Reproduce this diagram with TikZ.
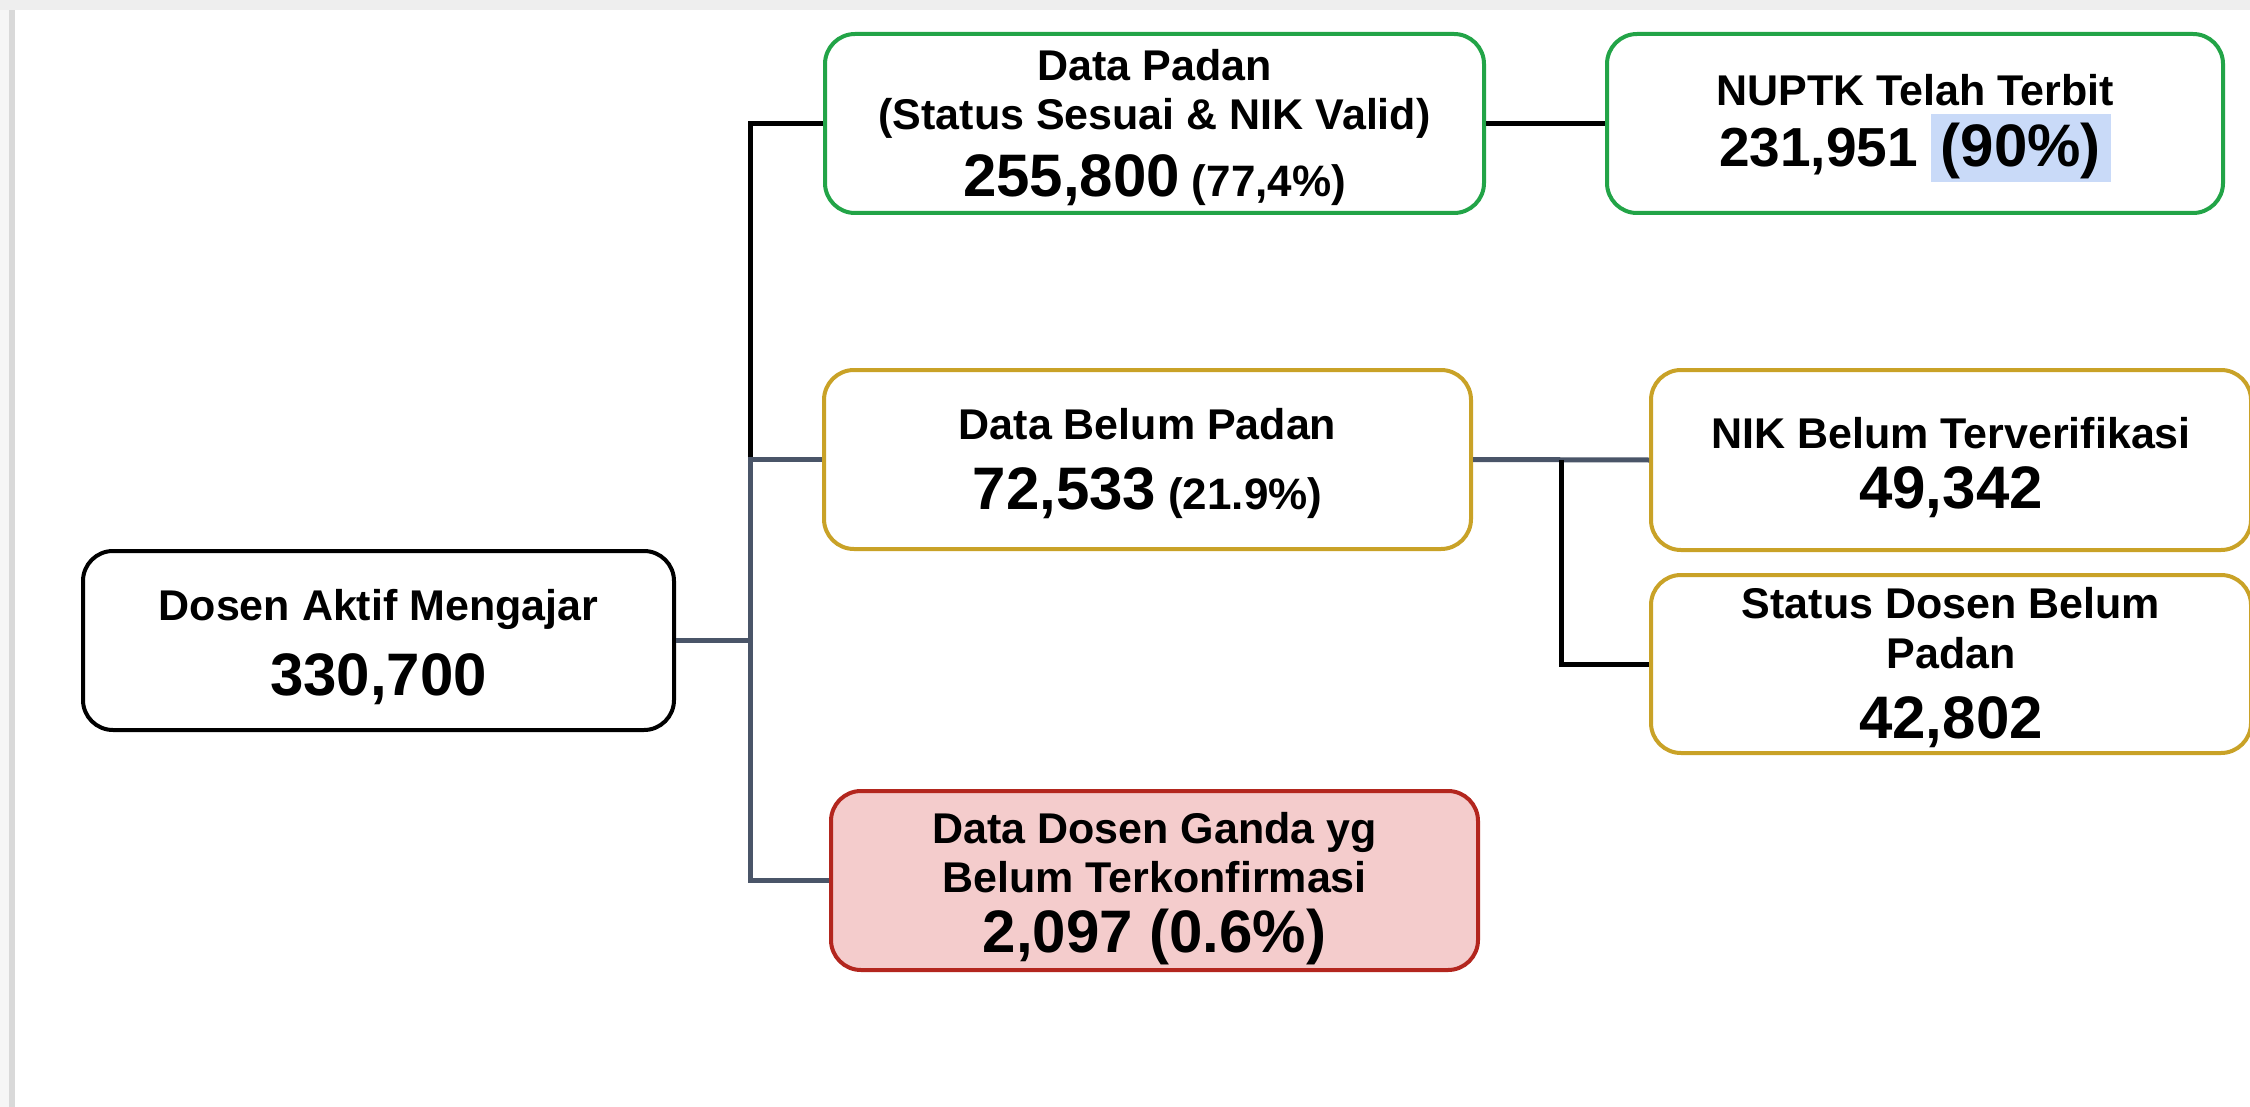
\documentclass[tikz,border=0pt]{standalone}
\usepackage{fontspec}
\setmainfont{Liberation Sans}
\usetikzlibrary{calc}
\definecolor{grn}{HTML}{22A447}
\definecolor{gld}{HTML}{C9A227}
\definecolor{redb}{HTML}{B3261E}
\definecolor{redf}{HTML}{F4CCCC}
\definecolor{slate}{HTML}{4A5568}
\definecolor{hl}{HTML}{C9DAF8}
\definecolor{topband}{HTML}{EEEEEE}
\definecolor{leftpale}{HTML}{F6F6F6}
\definecolor{leftline}{HTML}{D9D9D9}
\newcommand{\hdfont}{\fontsize{43}{49}\selectfont}
\newcommand{\numfont}{\fontsize{60}{66}\selectfont}
\newcommand{\midnumfont}{\fontsize{55}{66}\selectfont}
\newcommand{\smfont}{\fontsize{44}{49}\selectfont}
\begin{document}
\begin{tikzpicture}[x=1pt,y=-1pt,
  box/.style={draw, line width=4pt, rounded corners=30pt, inner sep=0pt, fill=white},
  txt/.style={align=center, inner sep=0pt, font=\bfseries\hdfont},
  conn/.style={line width=5pt},
  blk/.style={conn, black},
  slt/.style={conn, slate}]
\useasboundingbox (0,0) rectangle (2250,1107);
\fill[white] (0,0) rectangle (2250,1107);
\fill[topband] (0,0) rectangle (2250,10);
\fill[leftpale] (0,10) rectangle (9,1107);
\fill[leftline] (9,10) rectangle (15,1107);

% boxes
\node[box, draw=black, minimum width=591pt, minimum height=179pt] (root) at (378.5,640.5) {};
\node[box, draw=grn, minimum width=659pt, minimum height=179pt] (padan) at (1154.5,123.5) {};
\node[box, draw=grn, minimum width=616pt, minimum height=179pt] (nuptk) at (1915,123.5) {};
\node[box, draw=gld, minimum width=647pt, minimum height=179pt] (belum) at (1147.5,459.5) {};
\node[box, draw=gld, minimum width=600pt, minimum height=180pt] (nik) at (1951,460) {};
\node[box, draw=gld, minimum width=600pt, minimum height=178pt] (status) at (1951,664) {};
\node[box, draw=redb, fill=redf, minimum width=647pt, minimum height=179pt] (ganda) at (1154.5,880.5) {};

% texts
\node[txt] (rootT) at ([yshift=-7pt]root.center)
  {Dosen Aktif Mengajar\\[23pt]{\numfont 330,700}};
\node[txt] (padanT) at ([yshift=-4pt]padan.center)
  {Data Padan\\(Status Sesuai \& NIK Valid)\\[15pt]{\numfont 255,800} {\smfont (77,4\%)}};
\node[txt] (nuptkT) at ([yshift=-1pt]nuptk.center)
  {NUPTK Telah Terbit\\[12pt]{\midnumfont 231,951}\hspace{13pt}{\numfont\smash{{\setlength{\fboxsep}{0pt}\colorbox{hl}{\rule[-16pt]{0pt}{68pt}\kern10pt(90\%)\kern10pt}}}}};
\node[txt] (belumT) at ([yshift=-4pt]belum.center)
  {Data Belum Padan\\[21pt]{\numfont 72,533} {\smfont (21.9\%)}};
\node[txt] (nikT) at ([yshift=-8pt]nik.center)
  {NIK Belum Terverifikasi\\[11pt]{\numfont 49,342}};
\node[txt] (statusT) at ([yshift=-4pt]status.center)
  {Status Dosen Belum\\[1pt]Padan\\[21pt]{\numfont 42,802}};
\node[txt] (gandaT) at ([yshift=-8pt]ganda.center)
  {Data Dosen Ganda yg\\Belum Terkonfirmasi\\[11pt]{\numfont 2,097 (0.6\%)}};

% connectors
\coordinate (bus) at (750,640.5);
\coordinate (br) at ($(belum.east)!0.5!(nik.west)$);
\draw[slt] (root.east) -- (bus);
\draw[blk] (padan.west) -| (bus |- belum.west);
\draw[slt] (belum.west) -| (bus) |- (ganda.west);
\draw[blk] (padan.east) -- (nuptk.west);
\draw[slt] (belum.east) -- (nik.west);
\draw[blk] (br) |- (status.west);
\end{tikzpicture}
\end{document}
